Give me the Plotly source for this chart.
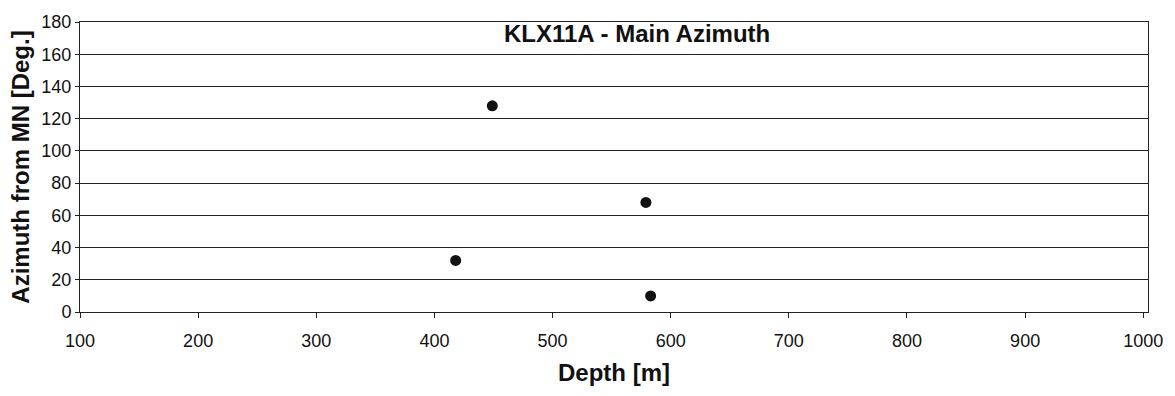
import plotly.graph_objects as go

depth = [418, 449, 579, 583]
azimuth = [32, 128, 68, 10]
x_ticks = [100, 200, 300, 400, 500, 600, 700, 800, 900, 1000]
y_ticks = [0, 20, 40, 60, 80, 100, 120, 140, 160, 180]

fig = go.Figure()
fig.add_trace(go.Scatter(
    x=depth, y=azimuth, mode="markers",
    marker=dict(symbol="circle", size=11, color="#111111"),
    showlegend=False,
))

font = "Liberation Sans, Arial, sans-serif"
fig.update_layout(
    width=1175, height=396,
    margin=dict(l=80, r=25, t=17, b=84),
    paper_bgcolor="white", plot_bgcolor="white",
    font=dict(family=font, size=18, color="#111111"),
    xaxis=dict(
        range=[100, 1004], tickvals=x_ticks, ticks="outside", ticklen=5,
        tickcolor="#222222", showgrid=False, zeroline=False,
        showline=True, linecolor="#222222", linewidth=1, mirror=True,
        title=dict(text="<b>Depth [m]</b>", font=dict(size=24), standoff=14),
        tickfont=dict(size=18), ticklabelstandoff=7,
    ),
    yaxis=dict(
        range=[0, 180], tickvals=y_ticks, ticks="outside", ticklen=4,
        tickcolor="#222222", showgrid=True, gridcolor="#222222", gridwidth=1,
        zeroline=False, showline=True, linecolor="#222222", linewidth=1, mirror=True,
        title=dict(text="<b>Azimuth from MN [Deg.]</b>", font=dict(size=24), standoff=4),
        tickfont=dict(size=18),
    ),
    annotations=[dict(
        text="<b>KLX11A - Main Azimuth</b>", x=0.522, y=0.962, xref="paper", yref="paper",
        xanchor="center", yanchor="middle", showarrow=False, font=dict(size=24),
    )],
)

fig.write_html("out.html")
